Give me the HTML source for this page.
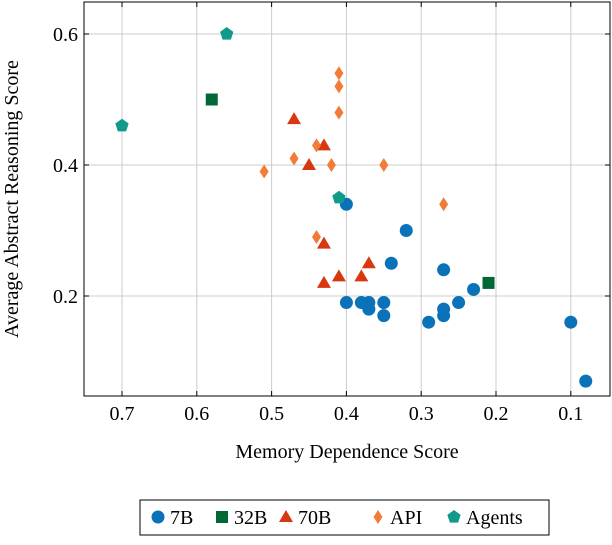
<!DOCTYPE html>
<html><head><meta charset="utf-8"><style>
body{margin:0;background:#fff;font-family:"Liberation Serif",serif}
text{font-family:"Liberation Serif",serif;fill:#000}
</style></head><body>
<svg id="c" width="612" height="540">
<g id="grid"></g>
<rect x="84" y="2" width="526" height="394" fill="none" stroke="#000" stroke-width="1"/>
<g id="marks"></g>
<g id="ticks"></g>
<text x="347" y="458" font-size="20" text-anchor="middle">Memory Dependence Score</text>
<text transform="translate(18,199) rotate(-90)" font-size="20" text-anchor="middle">Average Abstract Reasoning Score</text>
<rect x="140" y="500" width="409" height="35" fill="#fff" stroke="#000"/>
<g id="legend"></g>
</svg>
<script>
const xTicks=[0.7,0.6,0.5,0.4,0.3,0.2,0.1];
const yTicks=[0.2,0.4,0.6];
const x7B=[0.40,0.32,0.34,0.27,0.40,0.38,0.37,0.37,0.35,0.35,0.29,0.27,0.27,0.25,0.23,0.10,0.08];
const y7B=[0.34,0.30,0.25,0.24,0.19,0.19,0.19,0.18,0.19,0.17,0.16,0.18,0.17,0.19,0.21,0.16,0.07];
const x32B=[0.58,0.21];
const y32B=[0.50,0.22];
const x70B=[0.47,0.43,0.45,0.43,0.41,0.37,0.38,0.43];
const y70B=[0.47,0.43,0.40,0.28,0.23,0.25,0.23,0.22];
const xAPI=[0.41,0.41,0.41,0.44,0.47,0.42,0.35,0.51,0.27,0.44];
const yAPI=[0.54,0.52,0.48,0.43,0.41,0.40,0.40,0.39,0.34,0.29];
const xAg=[0.56,0.70,0.41];
const yAg=[0.60,0.46,0.35];
const legendLabels=["7B","32B","70B","API","Agents"];

const NS="http://www.w3.org/2000/svg";
const sx=v=>122+(0.7-v)*748;
const sy=v=>296-(v-0.2)*655;
function mk(t,a,p){const e=document.createElementNS(NS,t);for(const k in a)e.setAttribute(k,a[k]);p.appendChild(e);return e;}
const grid=document.getElementById('grid'),ticks=document.getElementById('ticks'),marks=document.getElementById('marks'),leg=document.getElementById('legend');
xTicks.forEach(v=>{const X=sx(v);
 const l=mk('line',{x1:X,x2:X,y1:2,y2:396,stroke:'#ccc'},grid);
 
 
 mk('line',{x1:X,x2:X,y1:396,y2:391,stroke:'#000'},ticks);
 mk('line',{x1:X,x2:X,y1:2,y2:7,stroke:'#000'},ticks);
 const t=mk('text',{x:X,y:420,'font-size':20,'text-anchor':'middle'},ticks);t.textContent=v.toFixed(1);
 
 });
yTicks.forEach(v=>{const Y=sy(v);
 const l=mk('line',{x1:84,x2:610,y1:Y,y2:Y,stroke:'#ccc'},grid);
 
 
 mk('line',{x1:84,x2:89,y1:Y,y2:Y,stroke:'#000'},ticks);
 mk('line',{x1:610,x2:605,y1:Y,y2:Y,stroke:'#000'},ticks);
 const t=mk('text',{x:78,y:Y+7,'font-size':20,'text-anchor':'end'},ticks);t.textContent=v.toFixed(1);
 
 });
function shape(kind,X,Y,p){
 if(kind==0)return mk('circle',{cx:X,cy:Y,r:6.5,fill:'#0a72b8'},p);
 if(kind==1)return mk('rect',{x:X-6,y:Y-6,width:12,height:12,fill:'#006837'},p);
 if(kind==2)return mk('polygon',{points:`${X},${Y-7} ${X+7},${Y+5} ${X-7},${Y+5}`,fill:'#d7380f'},p);
 if(kind==3)return mk('polygon',{points:`${X},${Y-7} ${X+4.5},${Y} ${X},${Y+7} ${X-4.5},${Y}`,fill:'#f07c38'},p);
 let pts=[];for(let i=0;i<5;i++){const a=-Math.PI/2+i*2*Math.PI/5;pts.push((X+7*Math.cos(a))+','+(Y+7*Math.sin(a)));}
 return mk('polygon',{points:pts.join(' '),fill:'#109a8a'},p);
}
const series=[[x7B,y7B],[x32B,y32B],[x70B,y70B],[xAPI,yAPI],[xAg,yAg]];
const names=['point-7b','point-32b','point-70b','point-api','point-agents'];
series.forEach((s,k)=>s[0].forEach((xv,i)=>{const e=shape(k,sx(xv),sy(s[1][i]),marks);
 
 }));
const lx=[158,222,286,378,454];
legendLabels.forEach((n,k)=>{const g=mk('g',{},leg);
 
 
 shape(k,lx[k],517,g);const t=mk('text',{x:lx[k]+12,y:524,'font-size':20},g);t.textContent=n;});
</script>
</body></html>
